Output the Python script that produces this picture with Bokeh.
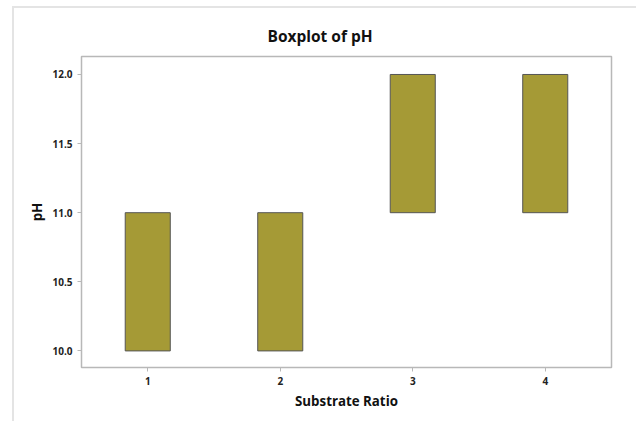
from bokeh.plotting import figure
from bokeh.models import FixedTicker, NumeralTickFormatter, Range1d
from bokeh.embed import file_html
from bokeh.resources import INLINE

# Substrate ratio groups and their pH quartiles
ratios = [1, 2, 3, 4]
q1 = [10.0, 10.0, 11.0, 11.0]
q3 = [11.0, 11.0, 12.0, 12.0]
y_ticks = [10.0, 10.5, 11.0, 11.5, 12.0]

FONT = "Open Sans"
GRID_GRAY = "#b8b8b8"

p = figure(
    width=624, height=415,
    x_range=Range1d(0.5, 4.5), y_range=Range1d(9.88, 12.13),
    output_backend="svg", toolbar_location=None,
    title="Boxplot of pH",
    min_border_left=67, min_border_right=27,
    min_border_top=48, min_border_bottom=56,
    margin=(6, 0, 0, 12),
    styles={"border-top": "2px solid #e4e4e4", "border-left": "2px solid #e4e4e4"},
)

# title sits centred on the page rather than over the frame
p.title.align = "left"
p.title.offset = 186
p.title.text_font = FONT
p.title.text_font_size = "15.5px"
p.title.text_font_style = "bold"
p.title.text_color = "#111111"
p.title.standoff = 19

p.vbar(x=ratios, width=0.34, bottom=q1, top=q3,
       fill_color="#a59a36", line_color="#555555", line_width=1)

p.xgrid.visible = False
p.ygrid.visible = False
p.outline_line_color = GRID_GRAY
p.outline_line_width = 1.5

for ax in (p.xaxis[0], p.yaxis[0]):
    ax.axis_line_color = GRID_GRAY
    ax.major_tick_line_color = GRID_GRAY
    ax.major_tick_out = 4
    ax.major_tick_in = 0
    ax.minor_tick_line_color = None
    ax.major_label_text_font = FONT
    ax.major_label_text_font_size = "10px"
    ax.major_label_text_font_style = "bold"
    ax.major_label_text_color = "#222222"
    ax.axis_label_text_font = FONT
    ax.axis_label_text_font_size = "13.3px"
    ax.axis_label_text_font_style = "bold"
    ax.axis_label_text_color = "#111111"

p.xaxis.ticker = FixedTicker(ticks=ratios)
p.xaxis.axis_label = "Substrate Ratio"
p.xaxis.axis_label_standoff = 4
p.yaxis.ticker = FixedTicker(ticks=y_ticks)
p.yaxis.formatter = NumeralTickFormatter(format="0.0")
p.yaxis.axis_label = "pH"
p.yaxis.axis_label_standoff = 3

open("out.html", "w").write(file_html(p, INLINE))
